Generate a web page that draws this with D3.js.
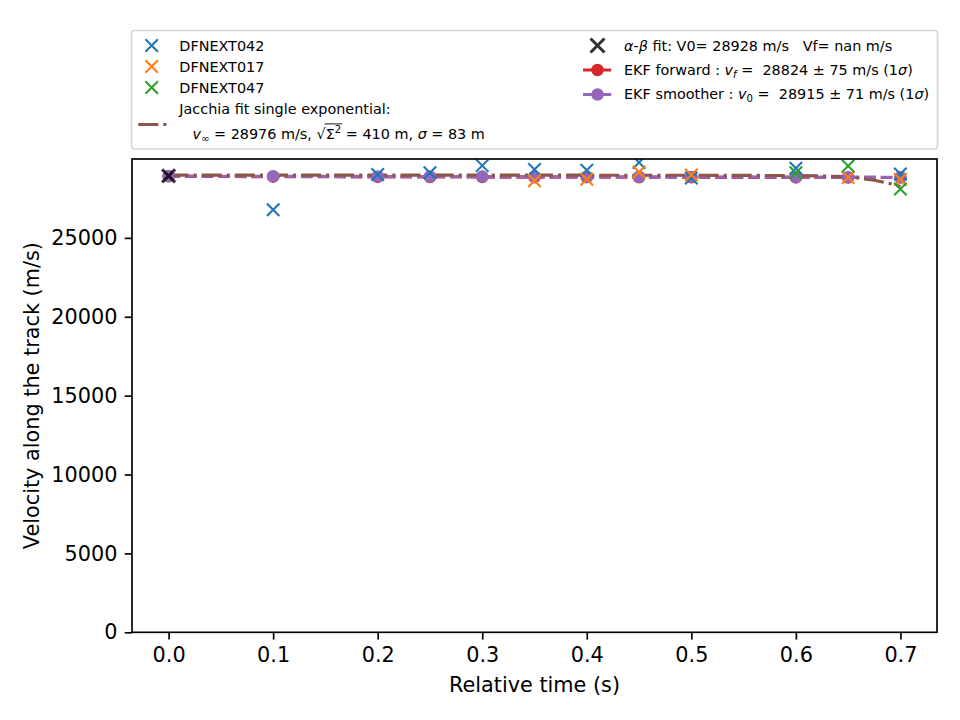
<!DOCTYPE html>
<html>
<head>
<meta charset="utf-8">
<script src="https://cdn.jsdelivr.net/npm/d3@7"></script>
<style>
  html, body { margin: 0; padding: 0; background: #fff; }
  svg text { font-family: "DejaVu Sans", sans-serif; white-space: pre; }
</style>
</head>
<body>
<svg id="chart" width="960" height="720"></svg>
<script>
// ---------- data ----------
const xTicks = [0.0, 0.1, 0.2, 0.3, 0.4, 0.5, 0.6, 0.7];
const yTicks = [0, 5000, 10000, 15000, 20000, 25000];

const cam042Time = [0.1, 0.2, 0.25, 0.3, 0.35, 0.4, 0.45, 0.5, 0.6, 0.7];
const cam042Vel  = [26780, 29020, 29130, 29580, 29330, 29280, 29780, 28800, 29420, 29050];

const cam017Time = [0.35, 0.4, 0.45, 0.5, 0.65, 0.7];
const cam017Vel  = [28620, 28710, 29180, 28990, 28820, 28700];

const cam047Time = [0.6, 0.65, 0.7];
const cam047Vel  = [29130, 29560, 28100];

const jacchiaTime = [0.0, 0.1, 0.2, 0.3, 0.4, 0.5, 0.55, 0.6, 0.625, 0.65, 0.675, 0.69, 0.7];
const jacchiaVel  = [28976, 28976, 28976, 28975, 28974, 28970, 28962, 28950, 28925, 28880, 28650, 28450, 28250];

const abTime = [0.0];
const abVel  = [28928];

const ekfTime = [0.0, 0.1, 0.2, 0.25, 0.3, 0.35, 0.4, 0.45, 0.5, 0.6, 0.65, 0.7];
const ekfForwardVel  = [28900, 28880, 28865, 28860, 28855, 28850, 28848, 28845, 28840, 28832, 28828, 28824];
const ekfSmootherVel = [28915, 28905, 28895, 28890, 28885, 28880, 28875, 28870, 28865, 28855, 28850, 28845];

const seriesX = [
  {name: "DFNEXT042", color: "#1f77b4", t: cam042Time, v: cam042Vel},
  {name: "DFNEXT017", color: "#ff7f0e", t: cam017Time, v: cam017Vel},
  {name: "DFNEXT047", color: "#2ca02c", t: cam047Time, v: cam047Vel}
];

// ---------- layout ----------
const svg = d3.select("#chart");
const L = 132, R = 937, T = 159, B = 632.3;
const x = d3.scaleLinear().domain([-0.035, 0.735]).range([L, R]);
const y = d3.scaleLinear().domain([0, 30000]).range([B, T]);

const FS = 20.8;   // 10pt @150dpi
const LFS = 14.4;  // legend font
const LW = 3.125;  // 1.5pt

const plot = svg.append("g");
const clipId = "clipArea";
svg.append("defs").append("clipPath").attr("id", clipId)
  .append("rect").attr("x", L).attr("y", T).attr("width", R - L).attr("height", B - T);
const area = plot.append("g").attr("clip-path", `url(#${clipId})`);

const lineGen = (ts, vs) => d3.line().x(i => x(ts[i])).y(i => y(vs[i]))(d3.range(ts.length));

const dashed = `${3.7*LW},${1.6*LW}`;
const dashdot = `${6.4*LW},${1.6*LW},${1*LW},${1.6*LW}`;

// EKF lines
area.append("path").attr("d", lineGen(ekfTime, ekfForwardVel))
  .attr("fill", "none").attr("stroke", "#d62728").attr("stroke-width", LW)
  .attr("stroke-dasharray", dashed);
area.append("path").attr("d", lineGen(ekfTime, ekfSmootherVel))
  .attr("fill", "none").attr("stroke", "#9467bd").attr("stroke-width", LW)
  .attr("stroke-dasharray", dashed);
// Jacchia
area.append("path").attr("d", lineGen(jacchiaTime, jacchiaVel))
  .attr("fill", "none").attr("stroke", "#8c564b").attr("stroke-width", LW)
  .attr("stroke-dasharray", dashdot);
// EKF markers
area.selectAll(".fwd").data(d3.range(ekfTime.length)).enter().append("circle")
  .attr("cx", i => x(ekfTime[i])).attr("cy", i => y(ekfForwardVel[i])).attr("r", 6.25)
  .attr("fill", "#d62728");
area.selectAll(".smo").data(d3.range(ekfTime.length)).enter().append("circle")
  .attr("cx", i => x(ekfTime[i])).attr("cy", i => y(ekfSmootherVel[i])).attr("r", 6.25)
  .attr("fill", "#9467bd");

function xMark(g, cx, cy, s, color, w, op) {
  g.append("path")
    .attr("d", `M${cx-s},${cy-s}L${cx+s},${cy+s}M${cx-s},${cy+s}L${cx+s},${cy-s}`)
    .attr("stroke", color).attr("stroke-width", w).attr("fill", "none")
    .attr("opacity", op == null ? 1 : op);
}
seriesX.forEach(s => {
  s.t.forEach((t, i) => xMark(area, x(t), y(s.v[i]), 6.25, s.color, 2.08));
});
abTime.forEach((t, i) => xMark(area, x(t), y(abVel[i]), 6.5, "#000", 3, 0.8));

// axes
const xAxis = d3.axisBottom(x).tickValues(xTicks).tickFormat(d3.format(".1f"))
  .tickSize(7.3).tickPadding(7.3);
const yAxis = d3.axisLeft(y).tickValues(yTicks).tickFormat(d3.format("d"))
  .tickSize(7.3).tickPadding(7.3);
const gx = plot.append("g").attr("transform", `translate(0,${B})`).call(xAxis);
const gy = plot.append("g").attr("transform", `translate(${L},0)`).call(yAxis);
[gx, gy].forEach(g => {
  g.select(".domain").remove();
  g.selectAll(".tick line").attr("stroke", "#000").attr("stroke-width", 1.67);
  g.selectAll(".tick text").attr("fill", "#000").style("font-size", FS + "px")
    .style("font-family", "DejaVu Sans");
});
plot.append("rect").attr("x", L).attr("y", T).attr("width", R - L).attr("height", B - T)
  .attr("fill", "none").attr("stroke", "#000").attr("stroke-width", 1.67);

plot.append("text").attr("x", (L + R) / 2).attr("y", 692).attr("text-anchor", "middle")
  .style("font-size", FS + "px").text("Relative time (s)");
plot.append("text").attr("transform", `translate(39,${(T + B) / 2}) rotate(-90)`)
  .attr("text-anchor", "middle").style("font-size", FS + "px")
  .text("Velocity along the track (m/s)");

// ---------- legend ----------
const lg = svg.append("g");
lg.append("rect").attr("x", 131.5).attr("y", 30.5).attr("width", 806).attr("height", 118.5)
  .attr("rx", 3).attr("fill", "#fff").attr("fill-opacity", 0.8)
  .attr("stroke", "#d6d6d6").attr("stroke-width", 1.67);

const lTextX = 179.3, lHandleX = 151.7;
const leftRows = [45.5, 66.5, 87.5];
seriesX.forEach((s, i) => {
  xMark(lg, lHandleX, leftRows[i], 6.25, s.color, 2.08);
  lg.append("text").attr("x", lTextX).attr("y", leftRows[i] + 5.2)
    .style("font-size", LFS + "px").text(s.name);
});
// Jacchia handle
lg.append("line").attr("x1", 138.3).attr("x2", 167.2).attr("y1", 124.5).attr("y2", 124.5)
  .attr("stroke", "#8c564b").attr("stroke-width", LW).attr("stroke-dasharray", dashdot);
lg.append("text").attr("x", lTextX).attr("y", 114).style("font-size", LFS + "px")
  .text("Jacchia fit single exponential:");

const j2 = lg.append("text").attr("x", 192.5).attr("y", 138.5).style("font-size", LFS + "px");
j2.append("tspan").style("font-style", "italic").text("v");
j2.append("tspan").attr("dy", 3).style("font-size", (LFS*0.7) + "px").text("∞");
j2.append("tspan").attr("dy", -3).text(" = 28976 m/s, ");
const sq = j2.append("tspan").text("√");
const sig = j2.append("tspan").text("Σ");
const sup = j2.append("tspan").attr("dy", -6).style("font-size", (LFS*0.7) + "px").text("2");
j2.append("tspan").attr("dy", 6).text(" = 410 m, ");
j2.append("tspan").style("font-style", "italic").text("σ");
j2.append("tspan").text(" = 83 m");
// overline for sqrt
try {
  const n = j2.node();
  const txt = n.textContent;
  const iS = txt.indexOf("√");
  const start = n.getStartPositionOfChar(iS);
  const endPos = n.getEndPositionOfChar(iS + 2);
  const sqEnd = n.getEndPositionOfChar(iS);
  lg.append("line").attr("x1", sqEnd.x - 1).attr("x2", endPos.x + 1)
    .attr("y1", 138.5 - 14.6).attr("y2", 138.5 - 14.6)
    .attr("stroke", "#000").attr("stroke-width", 0.9);
} catch (e) {}

// right column
const rHandleC = 597.5, rTextX = 624;
xMark(lg, rHandleC, 45.5, 7, "#000", 3, 0.8);
const r1 = lg.append("text").attr("x", rTextX).attr("y", 50.5).style("font-size", LFS + "px");
r1.append("tspan").style("font-style", "italic").text("α");
r1.append("tspan").text("-");
r1.append("tspan").style("font-style", "italic").text("β");
r1.append("tspan").text(" fit: V0= 28928 m/s   Vf= nan m/s");

function ekfHandle(cy, color) {
  lg.append("line").attr("x1", rHandleC - 14.45).attr("x2", rHandleC + 14.45)
    .attr("y1", cy).attr("y2", cy).attr("stroke", color).attr("stroke-width", LW)
    .attr("stroke-dasharray", dashed);
  lg.append("circle").attr("cx", rHandleC).attr("cy", cy).attr("r", 6.25).attr("fill", color);
}
ekfHandle(70, "#d62728");
ekfHandle(94.5, "#9467bd");

const r2 = lg.append("text").attr("x", rTextX).attr("y", 74.5).style("font-size", LFS + "px");
r2.append("tspan").text("EKF forward : ");
r2.append("tspan").style("font-style", "italic").text("v");
r2.append("tspan").attr("dy", 3).style("font-style", "italic").style("font-size", (LFS*0.7) + "px").text("f");
r2.append("tspan").attr("dy", -3).text(" =  28824 ± 75 m/s (1");
r2.append("tspan").style("font-style", "italic").text("σ");
r2.append("tspan").text(")");

const r3 = lg.append("text").attr("x", rTextX).attr("y", 99).style("font-size", LFS + "px");
r3.append("tspan").text("EKF smoother : ");
r3.append("tspan").style("font-style", "italic").text("v");
r3.append("tspan").attr("dy", 3).style("font-size", (LFS*0.7) + "px").text("0");
r3.append("tspan").attr("dy", -3).text(" =  28915 ± 71 m/s (1");
r3.append("tspan").style("font-style", "italic").text("σ");
r3.append("tspan").text(")");
</script>
</body>
</html>
